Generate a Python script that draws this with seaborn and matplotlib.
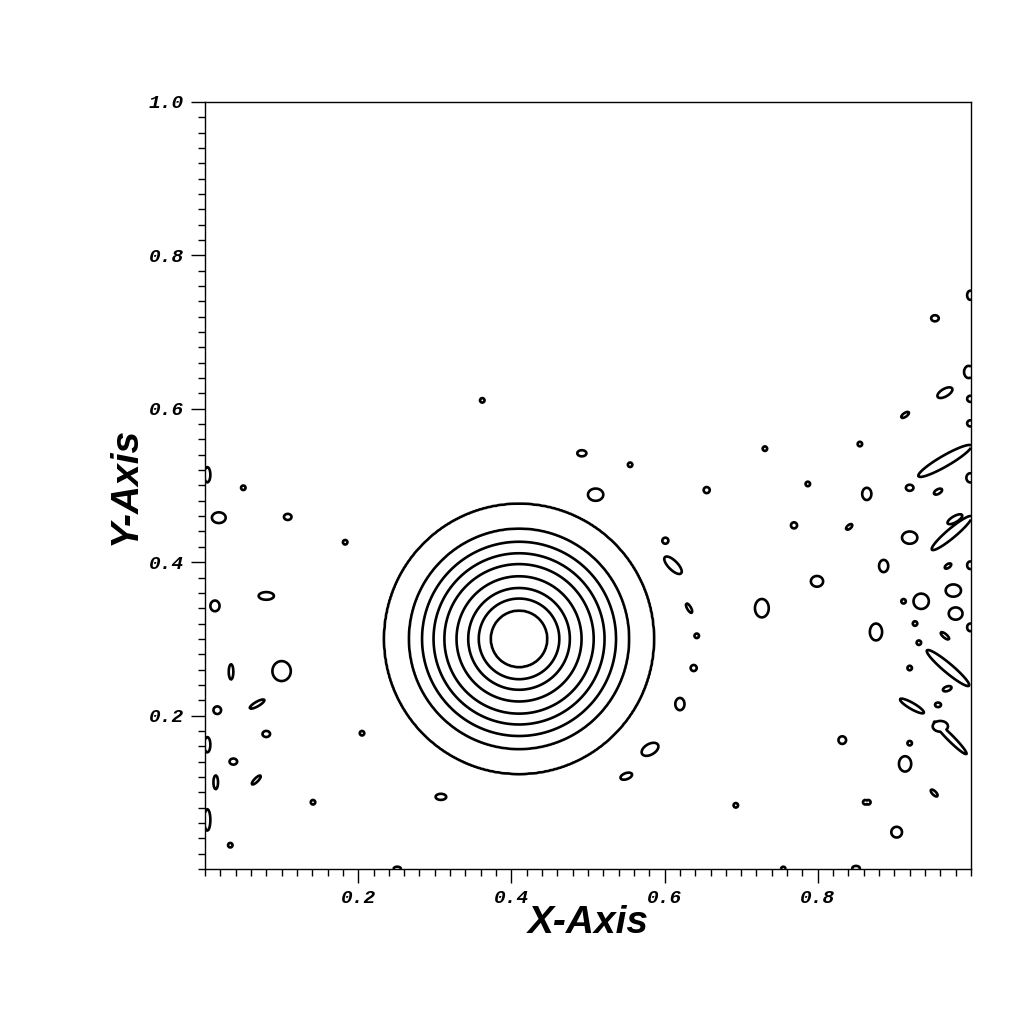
import numpy as np
import matplotlib
matplotlib.use("Agg")
import matplotlib.pyplot as plt
from matplotlib.ticker import MultipleLocator
import seaborn as sns

sns.set_style("white")
plt.rcParams.update({"text.color": "black", "axes.labelcolor": "black",
                     "xtick.color": "black", "ytick.color": "black"})

# --- main peak: ring radii and their levels ---
peak_center = (0.41, 0.30)
ring_radii = [0.0, 0.037, 0.0526, 0.0663, 0.0816, 0.0975, 0.1116, 0.1266, 0.1436, 0.176, 0.30]
ring_levels = [1.0, 0.9, 0.8, 0.7, 0.6, 0.5, 0.4, 0.3, 0.2, 0.1, 0.0]
contour_levels = [0.1, 0.2, 0.3, 0.4, 0.5, 0.6, 0.7, 0.8, 0.9]

# --- small noise loops: x, y, half-width, half-height, angle (deg) ---
blob_x = [0.003, 0.050, 0.018, 0.108, 0.183, 0.362, 0.013, 0.080, 0.034, 0.100,
          0.068, 0.016, 0.080, 0.003, 0.037, 0.067, 0.014, 0.003, 0.033, 0.141,
          0.205, 0.308, 0.251, 0.492, 0.555, 0.510, 0.601, 0.611, 0.632, 0.642,
          0.638, 0.620, 0.581, 0.550, 0.693, 0.655, 0.731, 0.769, 0.799, 0.727,
          0.787, 0.841, 0.855, 0.864, 0.832, 0.862, 0.850, 0.755, 0.903, 0.953,
          0.999, 0.966, 0.997, 0.914, 0.999, 0.999, 0.965, 0.966, 0.920, 0.957,
          0.999, 0.979, 0.920, 0.975, 0.886, 0.970, 0.999, 0.935, 0.912, 0.977,
          0.980, 0.927, 0.932, 0.966, 0.999, 0.876, 0.970, 0.920, 0.969, 0.957,
          0.923, 0.973, 0.960, 0.920, 0.914, 0.952, 0.866]
blob_y = [0.514, 0.497, 0.458, 0.459, 0.426, 0.611, 0.343, 0.356, 0.257, 0.258,
          0.215, 0.207, 0.176, 0.162, 0.140, 0.116, 0.113, 0.064, 0.031, 0.087,
          0.177, 0.094, 0.000, 0.542, 0.527, 0.488, 0.428, 0.396, 0.340, 0.304,
          0.262, 0.215, 0.156, 0.121, 0.083, 0.494, 0.548, 0.448, 0.375, 0.340,
          0.502, 0.446, 0.554, 0.489, 0.168, 0.087, 0.001, 0.000, 0.048, 0.718,
          0.748, 0.621, 0.648, 0.592, 0.613, 0.581, 0.527, 0.532, 0.497, 0.492,
          0.510, 0.456, 0.432, 0.438, 0.395, 0.395, 0.396, 0.349, 0.349, 0.363,
          0.333, 0.320, 0.295, 0.304, 0.315, 0.309, 0.262, 0.262, 0.235, 0.214,
          0.2125, 0.171, 0.186, 0.164, 0.137, 0.099, 0.087]
blob_w = [0.004, 0.003, 0.009, 0.005, 0.003, 0.003, 0.006, 0.010, 0.003, 0.012,
          0.011, 0.005, 0.005, 0.004, 0.005, 0.008, 0.003, 0.004, 0.003, 0.003,
          0.003, 0.007, 0.005, 0.006, 0.003, 0.010, 0.004, 0.015, 0.007, 0.003,
          0.004, 0.006, 0.012, 0.008, 0.003, 0.004, 0.003, 0.004, 0.008, 0.009,
          0.003, 0.005, 0.003, 0.006, 0.005, 0.003, 0.005, 0.003, 0.007, 0.005,
          0.004, 0.011, 0.006, 0.006, 0.004, 0.004, 0.003, 0.040, 0.005, 0.006,
          0.005, 0.011, 0.010, 0.034, 0.006, 0.005, 0.004, 0.010, 0.003, 0.010,
          0.009, 0.003, 0.003, 0.007, 0.004, 0.008, 0.036, 0.003, 0.006, 0.004,
          0.018, 0.030, 0.010, 0.003, 0.008, 0.006, 0.003]
blob_h = [0.010, 0.003, 0.007, 0.004, 0.003, 0.003, 0.007, 0.005, 0.010, 0.013,
          0.003, 0.005, 0.004, 0.010, 0.004, 0.0025, 0.009, 0.014, 0.003, 0.003,
          0.003, 0.004, 0.003, 0.004, 0.003, 0.008, 0.004, 0.006, 0.0025, 0.003,
          0.004, 0.008, 0.007, 0.004, 0.003, 0.004, 0.003, 0.004, 0.007, 0.012,
          0.003, 0.0025, 0.003, 0.008, 0.005, 0.003, 0.003, 0.003, 0.007, 0.004,
          0.006, 0.005, 0.008, 0.0025, 0.004, 0.004, 0.003, 0.007, 0.004, 0.003,
          0.006, 0.004, 0.008, 0.006, 0.008, 0.0025, 0.005, 0.010, 0.003, 0.008,
          0.008, 0.003, 0.003, 0.0025, 0.005, 0.011, 0.006, 0.003, 0.003, 0.003,
          0.004, 0.004, 0.007, 0.003, 0.010, 0.0025, 0.003]
blob_a = [0, 0, 0, 0, 0, 0, 0, 0, 0, 0,
          30, 0, 0, 0, 0, 45, 0, 0, 0, 0,
          0, 0, 0, 0, 0, 0, 0, -45, -60, 0,
          0, 0, 30, 20, 0, 0, 0, 0, 0, 0,
          0, 40, 0, 0, 0, 0, 0, 0, 0, 0,
          0, 30, 0, 35, 0, 0, 0, 30, 0, 30,
          0, 30, 0, 40, 0, 35, 0, 0, 0, 0,
          0, 0, 0, -40, 0, 0, -40, 0, 20, 0,
          -30, -45, 0, 0, 0, -45, 0]

# --- build field ---
n = 700
gx = np.linspace(0, 1, n)
gy = np.linspace(0, 1, n)
X, Y = np.meshgrid(gx, gy)
R = np.hypot(X - peak_center[0], Y - peak_center[1])
Z = np.interp(R, ring_radii, ring_levels)

for bx, by, bw, bh, ba in zip(blob_x, blob_y, blob_w, blob_h, blob_a):
    t = np.deg2rad(ba)
    dx, dy = X - bx, Y - by
    u = dx * np.cos(t) + dy * np.sin(t)
    v = -dx * np.sin(t) + dy * np.cos(t)
    d = np.sqrt((u / bw) ** 2 + (v / bh) ** 2)
    bump = 0.1 + 0.05 * (1 - d)
    Z = np.maximum(Z, bump)

# --- plot ---
fig = plt.figure(figsize=(10.24, 10.24), dpi=100)
ax = fig.add_axes([0.2002, 0.1514, 0.748, 0.7490])
ax.contour(X, Y, Z, levels=contour_levels, colors="black", linewidths=1.9)

ax.set_xlim(0, 1)
ax.set_ylim(0, 1)
ax.set_xticks([0.2, 0.4, 0.6, 0.8])
ax.set_yticks([0.2, 0.4, 0.6, 0.8, 1.0])
ax.xaxis.set_minor_locator(MultipleLocator(0.02))
ax.yaxis.set_minor_locator(MultipleLocator(0.02))
ax.tick_params(which="major", direction="out", length=10, width=1, color="black",
               bottom=True, left=True, top=False, right=False, pad=5)
ax.tick_params(which="minor", direction="out", length=5, width=1, color="black",
               bottom=True, left=True, top=False, right=False)

for lab in ax.get_xticklabels() + ax.get_yticklabels():
    lab.set_fontfamily("Liberation Mono")
    lab.set_fontweight("bold")
    lab.set_fontstyle("italic")
    lab.set_fontsize(14)
    lab.set_color("black")

label_font = dict(family="Liberation Sans", weight="bold", style="italic", size=28, color="black")
ax.set_xlabel("X-Axis", labelpad=-1, **label_font)
ax.set_ylabel("Y-Axis", labelpad=4, **label_font)

for sp in ax.spines.values():
    sp.set_color("black")
    sp.set_linewidth(1)

fig.savefig("out.png", dpi=100, facecolor="white")
